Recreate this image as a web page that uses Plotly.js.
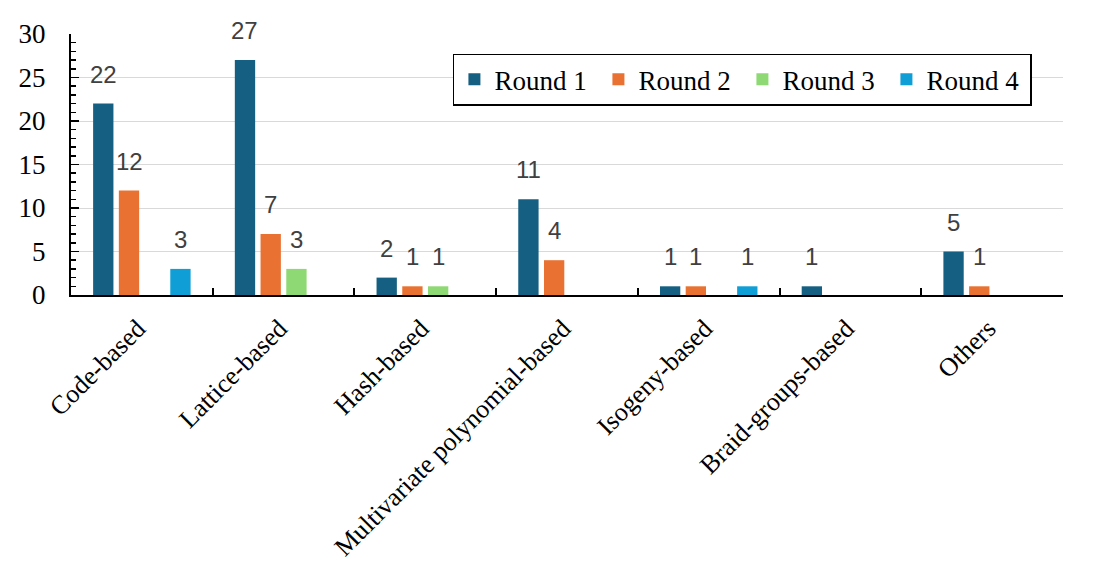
<!DOCTYPE html>
<html><head><meta charset="utf-8">
<script src="https://cdn.plot.ly/plotly-3.0.1.min.js"></script>
<style>html,body{margin:0;padding:0;background:#fff}</style>
</head><body>
<div id="chart" style="width:1103px;height:584px"></div>
<script>
const categories = ["Code-based","Lattice-based","Hash-based","Multivariate polynomial-based","Isogeny-based","Braid-groups-based","Others"];
const seriesNames = ["Round 1","Round 2","Round 3","Round 4"];
const round1 = [22,27,2,11,1,1,5];
const round2 = [12,7,1,4,1,0,1];
const round3 = [0,3,1,0,0,0,0];
const round4 = [3,0,0,0,1,0,0];
const colors = ["#156082","#E97132","#8ED973","#0F9ED5"];
const yTicks = [0,5,10,15,20,25,30];

const allSeries = [round1,round2,round3,round4];
const bargap = 0.274;
const traces = allSeries.map((vals,k)=>({
  type:'bar', name:seriesNames[k], x:categories, y:vals,
  marker:{color:colors[k]}, hoverinfo:'skip'
}));
const slot = (1-bargap)/allSeries.length;
const annotations = [];
allSeries.forEach((vals,k)=>vals.forEach((v,i)=>{
  if(v>0) annotations.push({
    x:i+(k-(allSeries.length-1)/2)*slot, y:v, xref:'x', yref:'y',
    text:String(v), showarrow:false, yanchor:'bottom', yshift:14,
    font:{family:'Liberation Sans, Arial, sans-serif', size:24, color:'#404040'}
  });
}));

const serif = 'Liberation Serif, Times New Roman, serif';
const layout = {
  width:1103, height:584,
  margin:{l:71, r:40, t:34, b:289, pad:0},
  paper_bgcolor:'#fff', plot_bgcolor:'#fff',
  barmode:'group', bargap:bargap, bargroupgap:0.21,
  font:{family:serif, color:'#000', size:26},
  showlegend:true,
  xaxis:{type:'category', tickangle:-45, ticks:'inside', tickson:'boundaries',
    ticklen:7, tickwidth:2, tickcolor:'#000', showline:true, linecolor:'#000', linewidth:2,
    showgrid:false, automargin:false, ticklabelstandoff:6, ticklabelshift:-4,
    tickfont:{family:serif, size:26, color:'#000'}},
  yaxis:{range:[yTicks[0], yTicks[yTicks.length-1]], tickmode:'linear', tick0:yTicks[0], dtick:yTicks[1]-yTicks[0],
    ticks:'inside', ticklen:8, tickwidth:1.5, tickcolor:'#000',
    showline:true, linewidth:2, linecolor:'#000', showgrid:true, gridcolor:'#d9d9d9', gridwidth:1,
    zeroline:false, automargin:false, ticklabelstandoff:18,
    minor:{dtick:1, tick0:0, ticks:'inside', ticklen:5, tickwidth:1.5, tickcolor:'#000', showgrid:false},
    tickfont:{family:serif, size:27, color:'#000'}},
  legend:{orientation:'h', x:0.385, xanchor:'left', y:0.925, yanchor:'top',
    bordercolor:'#000', borderwidth:1.5, bgcolor:'#fff', entrywidth:99, traceorder:'normal',
    font:{family:serif, size:27, color:'#000'}},
  annotations:annotations
};
Plotly.newPlot('chart', traces, layout, {displayModeBar:false, staticPlot:true});
</script>
</body></html>
